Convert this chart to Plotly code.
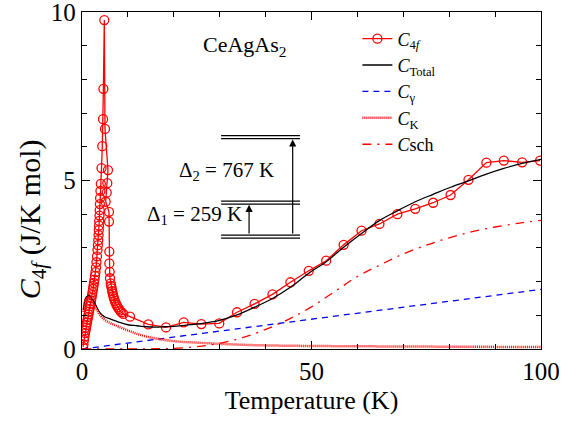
import plotly.graph_objects as go

# ---------------- data ----------------
T_4f = [0.22, 0.33, 0.44, 0.55, 0.65, 0.76, 0.87, 0.98, 1.09, 1.20, 1.31, 1.42, 1.53,
        1.63, 1.74, 1.85, 1.96, 2.07, 2.18, 2.29, 2.40, 2.50, 2.61, 2.72, 2.83, 2.94,
        3.05, 3.16, 3.27, 3.38, 3.47, 3.55, 3.61, 3.66, 3.71, 3.75, 3.81, 3.86, 3.90,
        3.94, 4.02, 4.10, 4.25, 4.42, 4.58, 4.66, 4.86,
        5.01, 5.66, 5.51, 5.38, 5.16, 5.88, 5.88, 5.95, 5.95, 6.03, 6.10, 6.25, 6.36,
        6.47, 6.58, 6.69, 6.83, 6.97, 7.15, 7.34, 7.55, 7.78, 8.03, 8.28, 8.60, 9.00,
        10.46, 14.45, 18.3, 22.15, 26.0, 29.9, 33.77, 37.6, 41.5, 45.4, 49.4, 53.2,
        57.0, 60.9, 64.8, 68.7, 72.6, 76.5, 80.3, 84.2, 88.1, 91.9, 95.9, 99.8]
C_4f = [0.06, 0.14, 0.27, 0.37, 0.47, 0.55, 0.63, 0.71, 0.79, 0.87, 0.95, 1.03, 1.11,
        1.19, 1.27, 1.34, 1.42, 1.51, 1.60, 1.69, 1.78, 1.87, 1.96, 2.06, 2.17, 2.28,
        2.42, 2.58, 2.75, 2.94, 3.08, 3.23, 3.38, 3.53, 3.66, 3.80, 3.96, 4.12, 4.30,
        4.48, 4.69, 4.90, 5.37, 6.02, 6.82, 7.72, 9.76,
        6.53, 5.31, 4.92, 4.64, 4.37, 4.07, 3.78, 2.89, 2.54, 2.29, 2.10, 1.95, 1.87,
        1.80, 1.72, 1.65, 1.57, 1.50, 1.43, 1.36, 1.30, 1.24, 1.19, 1.14, 1.09, 1.04,
        0.96, 0.73, 0.64, 0.79, 0.74, 0.76, 1.09, 1.34, 1.62, 1.98, 2.32, 2.62,
        3.09, 3.51, 3.71, 4.00, 4.16, 4.34, 4.57, 5.02, 5.53, 5.59, 5.54, 5.59]

T_tot = [0.3, 0.6, 1.0, 1.6, 2.0, 2.5, 3.0, 4.0, 5.0, 6.0, 7.0, 8.0, 10.0, 12.0, 14.0,
         16.0, 18.0, 20.0, 22.8, 25.0, 28.6, 30.0, 33.8, 37.6, 41.5, 45.4, 49.4, 53.2,
         57.0, 60.9, 64.8, 68.7, 72.6, 76.5, 80.3, 84.2, 88.1, 91.9, 95.9, 100.0]
C_tot = [1.15, 1.42, 1.55, 1.58, 1.52, 1.42, 1.30, 1.06, 0.95, 0.90, 0.85, 0.80, 0.72,
         0.69, 0.66, 0.65, 0.66, 0.67, 0.71, 0.74, 0.81, 0.85, 1.01, 1.24, 1.50, 1.83,
         2.25, 2.59, 3.02, 3.43, 3.81, 4.10, 4.37, 4.59, 4.80, 4.99, 5.19, 5.36, 5.51, 5.63]

T_g = [0.0, 100.0]
C_g = [0.0, 1.77]

T_K = [0.3, 0.6, 1.0, 1.5, 2.0, 2.5, 3.0, 4.0, 5.0, 6.0, 7.0, 8.0, 10.0, 12.0, 14.0,
       17.0, 21.0, 25.0, 29.0, 36.0, 43.0, 50.0, 60.0, 70.0, 85.0, 100.0]
C_K = [1.10, 1.38, 1.52, 1.55, 1.48, 1.36, 1.22, 1.00, 0.86, 0.78, 0.72, 0.66, 0.55,
       0.45, 0.37, 0.29, 0.22, 0.19, 0.16, 0.12, 0.10, 0.09, 0.08, 0.075, 0.065, 0.06]

T_sch = [0, 10, 15, 20, 25, 30, 35, 40, 45, 50, 55, 60, 65, 70, 75, 80, 85, 90, 95, 100]
C_sch = [0.0, 0.0, 0.005, 0.02, 0.07, 0.17, 0.34, 0.58, 0.88, 1.25, 1.70, 2.15, 2.50,
         2.82, 3.08, 3.30, 3.48, 3.62, 3.73, 3.82]

x_ticks = [0, 50, 100]
y_ticks = [0, 5, 10]

FONT = "Liberation Serif, Times New Roman, serif"
RED = "#ff0000"

fig = go.Figure()
fig.add_trace(go.Scatter(x=T_4f, y=C_4f, mode="lines+markers",
                         name="<i>C</i><sub>4<i>f</i></sub>",
                         line=dict(color=RED, width=1.3),
                         marker=dict(symbol="circle-open", size=9, color=RED,
                                     line=dict(width=1.3, color=RED))))
fig.add_trace(go.Scatter(x=T_tot, y=C_tot, mode="lines", line_shape="spline",
                         name="<i>C</i><sub>Total</sub>",
                         line=dict(color="black", width=1.3)))
fig.add_trace(go.Scatter(x=T_g, y=C_g, mode="lines",
                         name="<i>C</i><sub>γ</sub>",
                         line=dict(color="#0000ee", width=1.3, dash="6px,5px")))
fig.add_trace(go.Scatter(x=T_K, y=C_K, mode="lines", line_shape="spline",
                         name="<i>C</i><sub>K</sub>",
                         line=dict(color=RED, width=2.5, dash="1px,1px")))
fig.add_trace(go.Scatter(x=T_sch, y=C_sch, mode="lines", line_shape="spline",
                         name="<i>C</i>sch",
                         line=dict(color=RED, width=1.3, dash="9px,6px,2px,6px")))

# energy level scheme (inset)
for yy in [6.33, 6.24, 4.39, 4.30, 3.38, 3.29]:
    fig.add_shape(type="line", x0=30.3, x1=47.5, y0=yy, y1=yy, xref="x", yref="y",
                  line=dict(color="black", width=1.2))
fig.add_annotation(x=36.4, y=4.28, ax=36.4, ay=3.38, xref="x", yref="y",
                   axref="x", ayref="y", text="", showarrow=True, arrowhead=2,
                   arrowsize=1.2, arrowwidth=1.2, arrowcolor="black", standoff=0)
fig.add_annotation(x=45.9, y=6.22, ax=45.9, ay=3.38, xref="x", yref="y",
                   axref="x", ayref="y", text="", showarrow=True, arrowhead=2,
                   arrowsize=1.2, arrowwidth=1.2, arrowcolor="black", standoff=0)
fig.add_annotation(x=31.4, y=5.28, xref="x", yref="y", text="Δ<sub>2</sub> = 767 K",
                   showarrow=False, font=dict(size=21, family=FONT, color="black"))
fig.add_annotation(x=24.4, y=3.98, xref="x", yref="y", text="Δ<sub>1</sub> = 259 K",
                   showarrow=False, font=dict(size=21, family=FONT, color="black"))
fig.add_annotation(x=35.5, y=9.0, xref="x", yref="y", text="CeAgAs<sub>2</sub>",
                   showarrow=False, font=dict(size=22, family=FONT, color="black"))

# y-axis title (placed as in the reference, below the axis middle)
fig.add_annotation(x=-0.109, y=0.385, xref="paper", yref="paper", textangle=-90,
                   text="<i>C</i><sub>4<i>f</i></sub> (J/K mol)", showarrow=False,
                   xanchor="center", yanchor="middle",
                   font=dict(size=30, family=FONT, color="black"))

axis_common = dict(showline=True, linecolor="black", linewidth=1.3, mirror="ticks",
                   ticks="inside", ticklen=8, tickwidth=1.2, tickcolor="black",
                   showgrid=False, zeroline=False, ticklabeloverflow="allow",
                   automargin=False,
                   tickfont=dict(size=25, family=FONT, color="black"))

fig.update_xaxes(range=[0, 100], tickvals=x_ticks, ticktext=[str(v) for v in x_ticks],
                 minor=dict(dtick=10, ticks="inside", ticklen=5, tickcolor="black", tickwidth=1),
                 title=dict(text="Temperature (K)", font=dict(size=26, family=FONT, color="black"),
                            standoff=6),
                 **axis_common)
fig.update_yaxes(range=[0, 10], tickvals=y_ticks, ticktext=[str(v) for v in y_ticks],
                 minor=dict(dtick=1, ticks="inside", ticklen=5, tickcolor="black", tickwidth=1),
                 **axis_common)

fig.update_layout(
    width=584, height=424,
    margin=dict(l=82, r=43, t=12, b=75, autoexpand=False),
    paper_bgcolor="white", plot_bgcolor="white",
    font=dict(family=FONT, color="black"),
    legend=dict(x=0.6, y=0.975, xanchor="left", yanchor="top",
                bgcolor="rgba(0,0,0,0)", borderwidth=0, tracegroupgap=0,
                itemwidth=30, font=dict(size=18, family=FONT, color="black")),
)

fig.write_html("out.html")
